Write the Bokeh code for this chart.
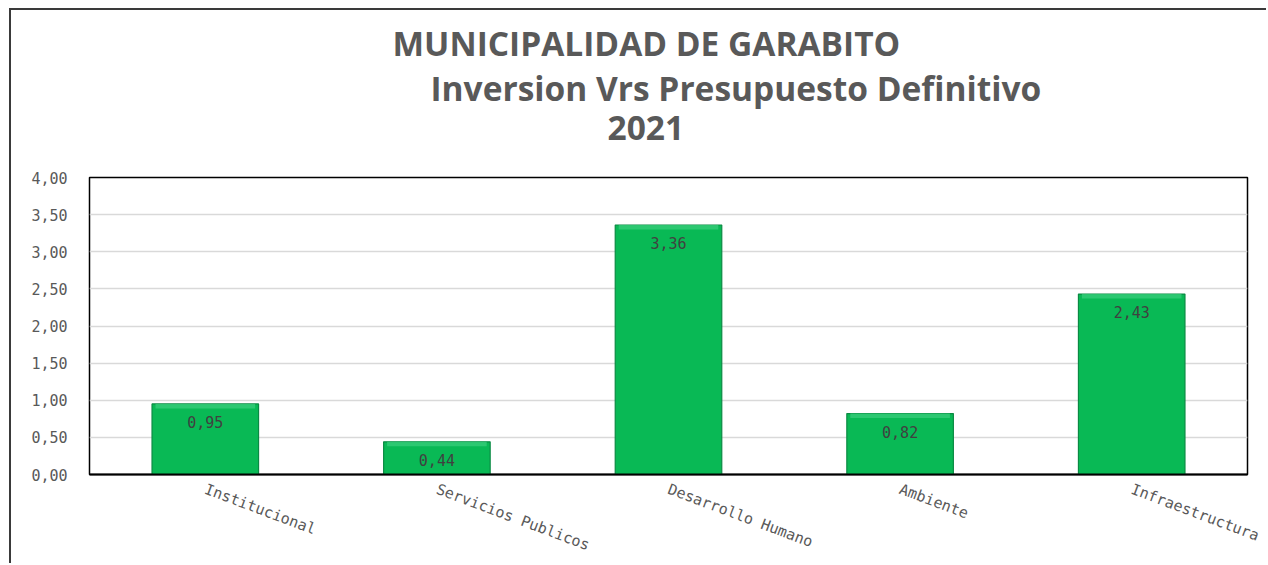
from bokeh.plotting import figure
from bokeh.models import Title, FixedTicker, CustomJSTickFormatter, ColumnDataSource
from bokeh.core.properties import value
from bokeh.embed import file_html
from bokeh.resources import INLINE

# ---- data ----
categories = ["Institucional", "Servicios Publicos", "Desarrollo Humano", "Ambiente", "Infraestructura"]
values = [0.95, 0.44, 3.36, 0.82, 2.43]
y_ticks = [0.0, 0.5, 1.0, 1.5, 2.0, 2.5, 3.0, 3.5, 4.0]
title_lines = ["MUNICIPALIDAD DE GARABITO", "Inversion Vrs Presupuesto Definitivo", "2021"]

labels = [f"{v:.2f}".replace(".", ",") for v in values]
hi_bottom = [v - 0.06 for v in values]
src = ColumnDataSource(dict(cat=categories, val=values, lab=labels, hib=hi_bottom))

GRAY = "#595959"

p = figure(x_range=categories, y_range=(0, 4), width=1257, height=555,
           output_backend="svg", toolbar_location=None,
           min_border_left=78, min_border_top=167, min_border_right=21, min_border_bottom=81)
p.styles = {"margin-left": "9px", "margin-top": "8px",
            "border-left": "2px solid #3a3a3a", "border-top": "2px solid #3a3a3a"}

p.outline_line_color = "black"
p.outline_line_width = 1.5
p.background_fill_color = "white"
p.border_fill_color = "white"

p.xgrid.grid_line_color = None
p.ygrid.grid_line_color = "#d9d9d9"
p.ygrid.grid_line_width = 1.5

# bars
p.vbar(x="cat", top="val", width=0.46, bottom=0, source=src,
       fill_color="#09b955", line_color="#0a8a43", line_width=1.2)
p.vbar(x="cat", top="val", bottom="hib", width=0.43, source=src,
       fill_color="#36cc78", line_color=None, fill_alpha=0.8)

p.text(x="cat", y="val", text="lab", source=src, text_align="center", text_baseline="top",
       y_offset=12, text_font=value("DejaVu Sans Mono"), text_font_size="15px", text_color="#404040")

# axes
p.yaxis.ticker = FixedTicker(ticks=y_ticks)
p.yaxis.formatter = CustomJSTickFormatter(code="return tick.toFixed(2).replace('.', ',');")
p.yaxis.axis_line_color = None
p.yaxis.major_tick_line_color = None
p.yaxis.minor_tick_line_color = None
p.yaxis.major_tick_out = 0
p.yaxis.major_tick_in = 0
p.yaxis.major_label_standoff = 22
p.yaxis.major_label_text_font = "DejaVu Sans Mono"
p.yaxis.major_label_text_font_size = "15px"
p.yaxis.major_label_text_color = GRAY

p.xaxis.axis_line_color = "black"
p.xaxis.axis_line_width = 2
p.xaxis.major_tick_line_color = None
p.xaxis.major_tick_out = 0
p.xaxis.major_tick_in = 0
p.xaxis.major_label_standoff = 14
p.xaxis.major_label_orientation = -0.36
p.xaxis.major_label_text_font = "DejaVu Sans Mono"
p.xaxis.major_label_text_font_size = "15px"
p.xaxis.major_label_text_color = GRAY

# spacer between plot frame and the title block
p.add_layout(Title(text=" ", text_font_size="1px", standoff=28), "above")

# title lines (added bottom-up: first added sits nearest the plot)
offsets = {"MUNICIPALIDAD DE GARABITO": 303, "Inversion Vrs Presupuesto Definitivo": 341, "2021": 518}
standoffs = {"MUNICIPALIDAD DE GARABITO": 2, "Inversion Vrs Presupuesto Definitivo": -8, "2021": 14}
for txt in reversed(title_lines):
    p.add_layout(Title(text=txt, align="left", offset=offsets[txt], standoff=standoffs[txt],
                       text_font="Open Sans", text_font_style="bold",
                       text_font_size="33.5px", text_color=GRAY), "above")

open("out.html", "w").write(file_html(p, INLINE))
